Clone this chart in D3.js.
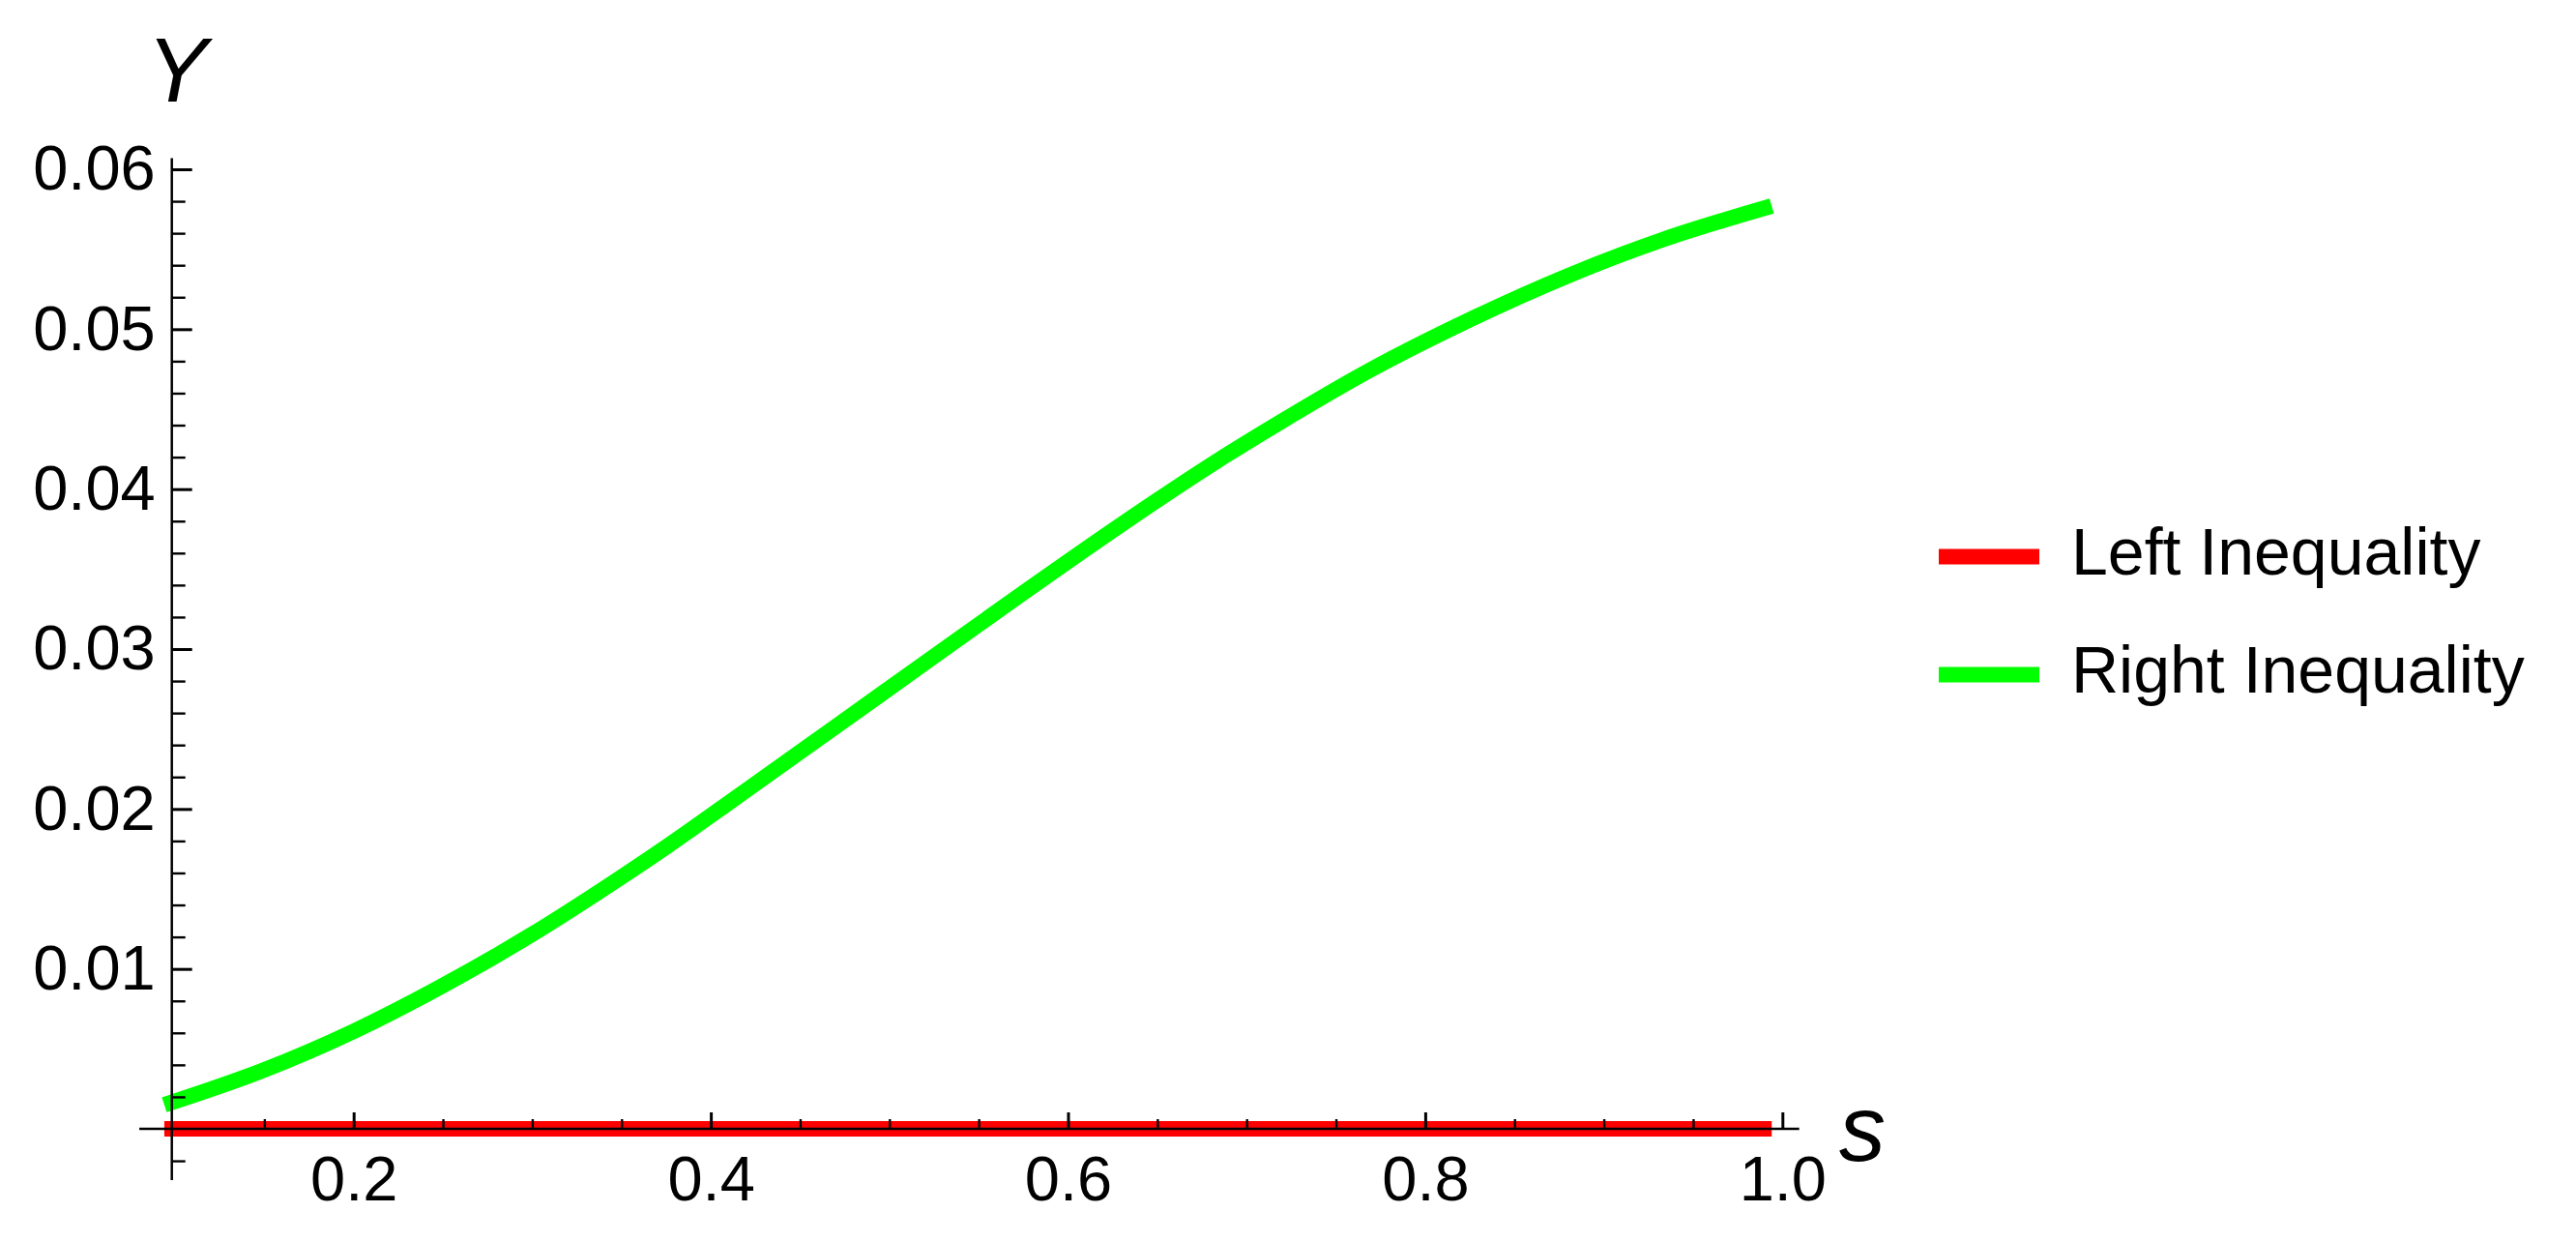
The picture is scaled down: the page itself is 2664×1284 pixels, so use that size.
<!DOCTYPE html>
<html>
<head>
<meta charset="utf-8">
<script src="https://cdn.jsdelivr.net/npm/d3@7"></script>
<style>
  html, body { margin: 0; padding: 0; background: #ffffff; }
  svg { display: block; }
  text { font-family: "Liberation Sans", Arial, sans-serif; fill: #000000; }
</style>
</head>
<body>
<svg id="chart"></svg>
<script>

/* Values. */
const sValues = [0.094, 0.148, 0.200, 0.249, 0.299, 0.348, 0.376, 0.414, 0.468, 0.522,
  0.576, 0.630, 0.684, 0.716, 0.770, 0.825, 0.879, 0.933, 0.994]
const leftValues = [0, 0, 0, 0, 0, 0, 0, 0, 0, 0, 0, 0, 0, 0, 0, 0, 0, 0, 0]
const rightValues = [0.0015, 0.0036, 0.0061, 0.0089, 0.0121, 0.0156, 0.0177, 0.0207, 0.0250, 0.0293,
  0.0336, 0.0378, 0.0418, 0.0440, 0.0475, 0.0506, 0.0533, 0.0556, 0.0577]

/* Series names and tick labels. */
const seriesNames = ["Left Inequality", "Right Inequality"]
const xMajorTicks = [0.2, 0.4, 0.6, 0.8, 1.0]
const xMinorTicks = [0.15, 0.25, 0.3, 0.35, 0.45, 0.5, 0.55, 0.65, 0.7, 0.75, 0.85, 0.9, 0.95]
const yMajorTicks = [0.01, 0.02, 0.03, 0.04, 0.05, 0.06]
const yMinorTicks = [-0.002, 0.002, 0.004, 0.006, 0.008, 0.012, 0.014, 0.016, 0.018,
  0.022, 0.024, 0.026, 0.028, 0.032, 0.034, 0.036, 0.038, 0.042, 0.044, 0.046, 0.048,
  0.052, 0.054, 0.056, 0.058]

/* Define svg size. */
const width = 2664
const height = 1284
const colors = ["#ff0000", "#00ff00"]

const svg = d3.select("#chart")
  .attr("width", width)
  .attr("height", height)
  .style("background", "#ffffff")

/* Scales. */
const xScale = d3.scaleLinear()
  .domain([0.2, 1.0])
  .range([365.7, 1843.3])

const yScale = d3.scaleLinear()
  .domain([0, 0.06])
  .range([1167, 175])

/* Line generator. */
const generateLine = d3.line()
  .x(d => xScale(d[0]))
  .y(d => yScale(d[1]))
  .curve(d3.curveMonotoneX)

const series = [leftValues, rightValues].map(values => sValues.map((s, i) => [s, values[i]]))

/* Append plot lines. */
svg.selectAll(".line")
  .data(series)
  .join("path")
  .attr("class", "line")
  .attr("d", d => generateLine(d))
  .attr("fill", "none")
  .attr("stroke", (d, i) => colors[i])
  .attr("stroke-width", 16)

/* Axis lines. */
svg.append("line")
  .attr("x1", xScale(0.08))
  .attr("x2", xScale(1.0094))
  .attr("y1", yScale(0))
  .attr("y2", yScale(0))
  .attr("stroke", "#000")
  .attr("stroke-width", 2.5)

svg.append("line")
  .attr("x1", 177.7)
  .attr("x2", 177.7)
  .attr("y1", yScale(-0.0032))
  .attr("y2", yScale(0.0607))
  .attr("stroke", "#000")
  .attr("stroke-width", 2.5)

/* X-axis ticks, pointing up. */
const xMajor = d3.axisTop(xScale).tickValues(xMajorTicks).tickSize(17).tickFormat("")
const xMinor = d3.axisTop(xScale).tickValues(xMinorTicks).tickSize(10).tickFormat("")
const xLabels = d3.axisBottom(xScale).tickValues(xMajorTicks).tickSize(0).tickPadding(28)
  .tickFormat(d3.format(".1f"))

svg.append("g").attr("class", "tick-major")
  .attr("transform", `translate(0, ${yScale(0)})`).call(xMajor)
svg.append("g").attr("class", "tick-minor")
  .attr("transform", `translate(0, ${yScale(0)})`).call(xMinor)
svg.append("g").attr("class", "labels")
  .attr("transform", `translate(0, ${yScale(0)})`).call(xLabels)

/* Y-axis ticks, pointing right. */
const yMajor = d3.axisRight(yScale).tickValues(yMajorTicks).tickSize(21).tickFormat("")
const yMinor = d3.axisRight(yScale).tickValues(yMinorTicks).tickSize(14).tickFormat("")
const yLabels = d3.axisLeft(yScale).tickValues(yMajorTicks).tickSize(0).tickPadding(17)
  .tickFormat(d3.format(".2f"))

svg.append("g").attr("class", "tick-major")
  .attr("transform", "translate(177.7, 0)").call(yMajor)
svg.append("g").attr("class", "tick-minor")
  .attr("transform", "translate(177.7, 0)").call(yMinor)
svg.append("g").attr("class", "labels")
  .attr("transform", "translate(177.7, 0)").call(yLabels)

/* Style the axes. */
svg.selectAll(".tick-major, .tick-minor, .labels").select(".domain").remove()
svg.selectAll(".tick-major line").attr("stroke", "#000").attr("stroke-width", 3)
svg.selectAll(".tick-minor line").attr("stroke", "#000").attr("stroke-width", 2.4)
svg.selectAll(".labels text")
  .style("font-family", "'Liberation Sans', Arial, sans-serif")
  .style("font-size", "65px")
  .attr("fill", "#000")

/* Axis titles. */
svg.append("text")
  .attr("x", 183)
  .attr("y", 105)
  .attr("text-anchor", "middle")
  .style("font-size", "94px")
  .style("font-style", "italic")
  .text("Y")

svg.append("text")
  .attr("x", 1902)
  .attr("y", 1200)
  .style("font-size", "96px")
  .style("font-style", "italic")
  .text("s")

/* Legend. */
const legend = svg.append("g")
  .selectAll("g")
  .data(seriesNames)
  .join("g")
  .attr("transform", (d, i) => `translate(0, ${575.5 + i * 122})`)

legend.append("line")
  .attr("x1", 2005)
  .attr("x2", 2109)
  .attr("stroke", (d, i) => colors[i])
  .attr("stroke-width", 16)

legend.append("text")
  .attr("x", 2142)
  .attr("y", 18)
  .style("font-size", "68px")
  .text(d => d)

</script>
</body>
</html>
